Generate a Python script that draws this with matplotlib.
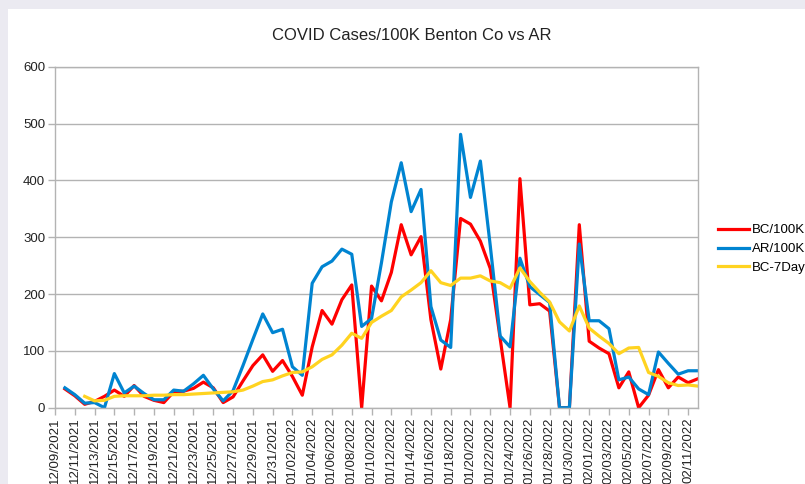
"""
COVID cases per 100K, Benton County vs Arkansas.
"""

import numpy as np
import pandas as pd
import matplotlib
matplotlib.use("Agg")
import matplotlib.pyplot as plt
import matplotlib.transforms as mtransforms
from matplotlib.patches import Rectangle

plt.rcParams['font.family'] = ['Liberation Sans', 'DejaVu Sans']

# axis runs 12/09/2021 .. 02/12/2022, data from 12/10/2021
dates = pd.date_range("2021-12-09", "2022-02-12")
tick_labels = [d.strftime("%m/%d/%Y") for d in dates[::2]]

bc_100k = [33, 21, 6, 11, 20, 31, 20, 39, 20, 13,
           9, 28, 29, 34, 45, 35, 9, 19, 47, 74,
           93, 64, 83, 55, 22, 107, 171, 147, 190, 216,
           0, 214, 188, 238, 322, 269, 301, 155, 68, 155,
           333, 323, 293, 245, 122, 0, 403, 181, 183, 170,
           0, 0, 322, 117, 105, 95, 35, 63, 0, 22,
           67, 35, 54, 44, 51]
ar_100k = [35, 23, 8, 9, 0, 60, 26, 38, 25, 14,
           14, 31, 29, 42, 57, 33, 12, 30, 74, 120,
           165, 132, 138, 72, 57, 219, 248, 258, 279, 270,
           143, 157, 255, 362, 431, 345, 384, 178, 119, 106,
           481, 370, 434, 285, 126, 107, 263, 213, 199, 185,
           0, 0, 288, 153, 153, 139, 49, 54, 33, 23,
           98, 78, 59, 65, 65]
bc_7day = [np.nan, np.nan, 20, 12, 13, 20, 21, 21, 21, 22,
           22, 23, 23, 24, 25, 26, 27, 28, 31, 38,
           46, 49, 56, 62, 63, 72, 85, 93, 110, 131,
           122, 150, 161, 171, 195, 207, 220, 241, 220, 215,
           228, 228, 232, 223, 220, 210, 246, 222, 203, 186,
           151, 135, 179, 140, 126, 113, 95, 105, 106, 62,
           55, 44, 39, 40, 38]

x = np.arange(1, len(bc_100k) + 1)

fig = plt.figure(figsize=(8.05, 4.84), dpi=100)
fig.patch.set_facecolor("#ebeaf1")
fig.patches.append(Rectangle((8 / 805, 0), 1, 1 - 9 / 484, transform=fig.transFigure,
                             facecolor="white", edgecolor="none", zorder=-10))

ax = fig.add_axes([55 / 805, 1 - 407.7 / 484, 643 / 805, 341 / 484])
ax.set_zorder(1)
ax.set_facecolor("white")

grid = "#b3b3b3"
ax.plot(x, bc_100k, color="#ff0000", lw=2.3, label="BC/100K")
ax.plot(x, ar_100k, color="#0084d1", lw=2.3, label="AR/100K")
ax.plot(x, bc_7day, color="#ffd320", lw=2.3, label="BC-7Day")

ax.set_xlim(0, len(dates) - 1)
ax.set_ylim(0, 600)
ax.set_yticks(range(0, 601, 100))
ax.yaxis.grid(True, color=grid, lw=1)
ax.set_axisbelow(True)

ax.set_xticks(np.arange(0, len(dates), 2))
ax.set_xticklabels(tick_labels, rotation=90, fontsize=9.5, color="#222222")
shift = mtransforms.ScaledTranslation(-3 / 100, 0, fig.dpi_scale_trans)
for lbl in ax.get_xticklabels():
    lbl.set_transform(lbl.get_transform() + shift)
ax.tick_params(axis="x", length=5, width=1, color=grid, pad=2)
ax.tick_params(axis="y", length=5, width=1, color=grid, labelsize=9.5,
               labelcolor="#222222", pad=2)
for s in ax.spines.values():
    s.set_color(grid)
    s.set_linewidth(1)

fig.text(412 / 805, 1 - 36 / 484, "COVID Cases/100K Benton Co vs AR",
         ha="center", va="center", fontsize=12, color="#222222")

fig.legend(loc="center left", bbox_to_anchor=(718 / 805, 1 - 249 / 484),
           frameon=False, fontsize=9.5, handlelength=2.35, handletextpad=0.25,
           labelspacing=0.5, borderpad=0, borderaxespad=0)

fig.savefig("out.png", dpi=100, facecolor=fig.get_facecolor())
